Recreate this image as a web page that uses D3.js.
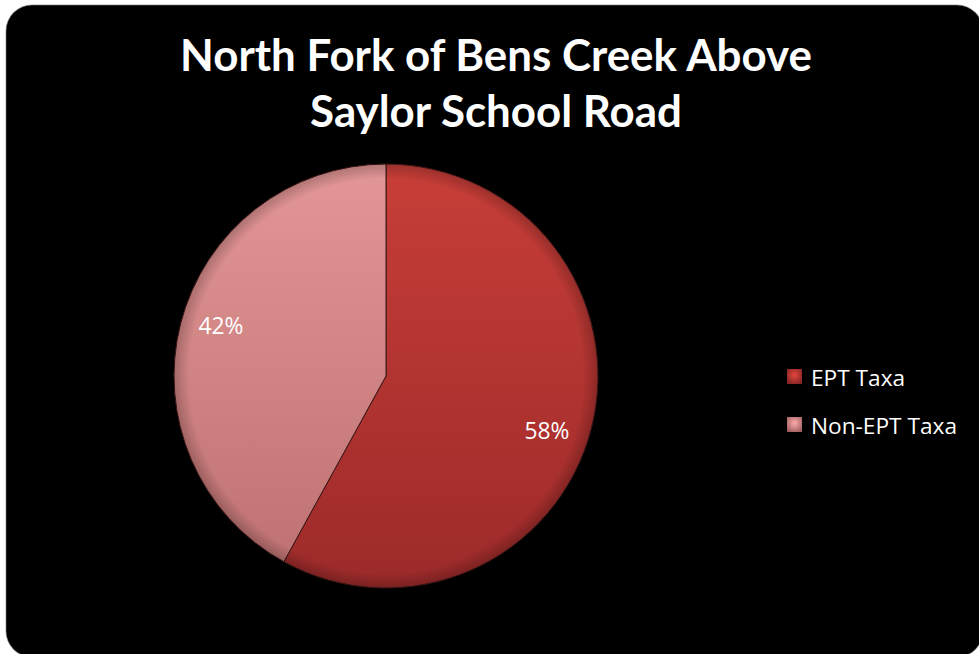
<!DOCTYPE html>
<html>
<head>
<meta charset="utf-8">
<script src="https://cdn.jsdelivr.net/npm/d3@7"></script>
<style>
  html, body { margin: 0; padding: 0; background: #ffffff; }
  svg { display: block; }
</style>
</head>
<body>
<svg id="chart" width="979" height="654"></svg>
<script>
// ---- data ----
const categories = ["EPT Taxa", "Non-EPT Taxa"];
const values = [58, 42];
const labels = ["58%", "42%"];
const titleLines = ["North Fork of Bens Creek Above", "Saylor School Road"];

const W = 979, H = 654;
const svg = d3.select("#chart");
const defs = svg.append("defs");

// background panel
svg.append("rect")
  .attr("x", 6).attr("y", 5)
  .attr("width", 977).attr("height", 652)
  .attr("rx", 26).attr("ry", 26)
  .attr("fill", "#000000")
  .attr("stroke", "#7a7a7a").attr("stroke-width", 0.6);

// gradients
const palettes = [
  { top: "#c83e38", bottom: "#9c2a2a" },
  { top: "#e39696", bottom: "#bd7070" }
];
palettes.forEach((p, i) => {
  const g = defs.append("linearGradient")
    .attr("id", "grad" + i)
    .attr("gradientUnits", "userSpaceOnUse")
    .attr("x1", 0).attr("y1", 164).attr("x2", 0).attr("y2", 588);
  g.append("stop").attr("offset", "0%").attr("stop-color", p.top);
  g.append("stop").attr("offset", "100%").attr("stop-color", p.bottom);
  const lg = defs.append("radialGradient")
    .attr("id", "leg" + i)
    .attr("cx", "50%").attr("cy", "40%").attr("r", "70%");
  lg.append("stop").attr("offset", "0%").attr("stop-color", d3.color(p.top).brighter(0.35));
  lg.append("stop").attr("offset", "100%").attr("stop-color", d3.color(p.bottom).darker(0.6));
});
// rim shading
const rim = defs.append("radialGradient")
  .attr("id", "rim").attr("cx", "50%").attr("cy", "50%").attr("r", "50%");
rim.append("stop").attr("offset", "0%").attr("stop-color", "#000").attr("stop-opacity", 0);
rim.append("stop").attr("offset", "93%").attr("stop-color", "#000").attr("stop-opacity", 0);
rim.append("stop").attr("offset", "100%").attr("stop-color", "#000").attr("stop-opacity", 0.22);

// title
const titleG = svg.append("g");
function fitText(sel, target) {
  const w = sel.node().getComputedTextLength();
  const fs = parseFloat(sel.attr("font-size"));
  sel.attr("font-size", fs * target / w);
}
const t1 = titleG.append("text")
  .attr("x", 496).attr("y", 71)
  .attr("text-anchor", "middle")
  .attr("font-family", "Lato, 'Open Sans', sans-serif")
  .attr("font-weight", "bold").attr("font-size", 44)
  .attr("fill", "#ffffff")
  .text(titleLines[0]);
fitText(t1, 632);
const t2 = titleG.append("text")
  .attr("x", 496).attr("y", 127)
  .attr("text-anchor", "middle")
  .attr("font-family", "Lato, 'Open Sans', sans-serif")
  .attr("font-weight", "bold")
  .attr("font-size", t1.attr("font-size"))
  .attr("fill", "#ffffff")
  .text(titleLines[1]);

// pie
const cx = 386, cy = 376, R = 212;
const pie = d3.pie().sort(null).value(d => d);
const arcs = pie(values);
const arc = d3.arc().innerRadius(0).outerRadius(R);
const pg = svg.append("g").attr("transform", `translate(${cx},${cy})`);
pg.selectAll("path.slice")
  .data(arcs)
  .join("path")
  .attr("class", "slice")
  .attr("d", arc)
  .attr("transform", `translate(0,0)`)
  .attr("fill", (d, i) => `url(#grad${i})`)
  .attr("stroke", "#3a1616")
  .attr("stroke-width", 1)
  .attr("stroke-linejoin", "round");
// gradient coordinates are in user space of the group -> shift
defs.selectAll("linearGradient").attr("y1", 164 - cy).attr("y2", 588 - cy);
pg.append("circle").attr("r", R).attr("fill", "url(#rim)");

// percentage labels
const labelPos = [[547, 430], [221, 325]];
const lab = pg.selectAll("text.pct")
  .data(arcs)
  .join("text")
  .attr("class", "pct")
  .attr("x", (d, i) => labelPos[i][0] - cx)
  .attr("y", (d, i) => labelPos[i][1] - cy)
  .attr("text-anchor", "middle")
  .attr("dominant-baseline", "central")
  .attr("font-family", "'Open Sans', Lato, sans-serif")
  .attr("font-size", 21)
  .attr("fill", "#ffffff")
  .text((d, i) => labels[i]);
fitText(d3.select(lab.nodes()[1]), 45);
d3.select(lab.nodes()[0]).attr("font-size", d3.select(lab.nodes()[1]).attr("font-size"));

// legend
const leg = svg.append("g");
const legY = [377, 425];
categories.forEach((c, i) => {
  leg.append("rect")
    .attr("x", 787).attr("y", legY[i] - 8)
    .attr("width", 15).attr("height", 15)
    .attr("fill", `url(#leg${i})`);
  const tx = leg.append("text")
    .attr("x", 811).attr("y", legY[i])
    .attr("dominant-baseline", "central")
    .attr("font-family", "'Open Sans', Lato, sans-serif")
    .attr("font-size", 20)
    .attr("fill", "#ffffff")
    .text(c);
  if (i === 1) fitText(tx, 146);
});
const lt = leg.selectAll("text").nodes();
d3.select(lt[0]).attr("font-size", d3.select(lt[1]).attr("font-size"));
</script>
</body>
</html>
